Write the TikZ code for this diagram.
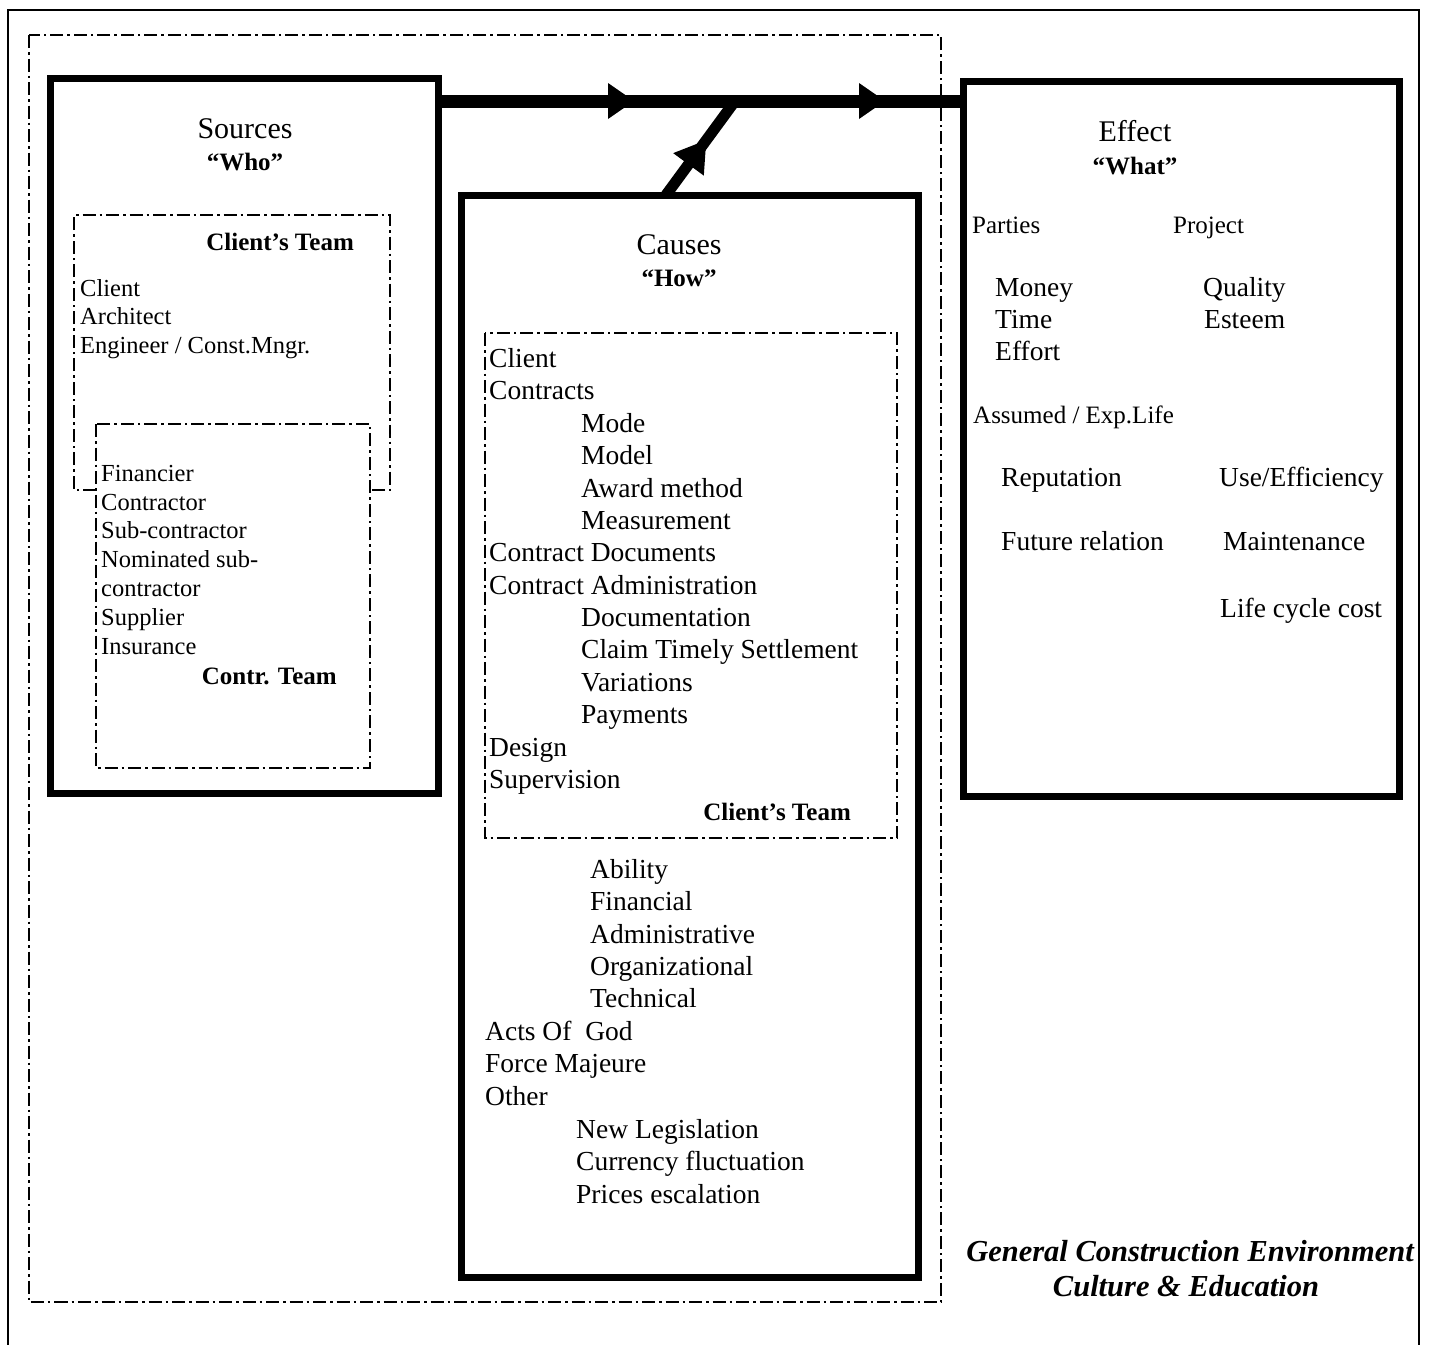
\documentclass[tikz,border=0pt]{standalone}
\usepackage{fontspec}
\setmainfont{Liberation Serif}
\usetikzlibrary{decorations.markings,calc}
\begin{document}
\begin{tikzpicture}[x=1pt,y=-1pt,
  frame/.style={line width=2pt},
  dd/.style={line width=2.6pt, dash pattern=on 13pt off 4pt on 2.5pt off 4pt},
  bigbox/.style={draw, line width=7pt, inner sep=0pt, outer sep=0pt, anchor=north west},
  flow/.style={line width=13pt},
  ttl/.style={anchor=base, inner sep=0pt, font=\fontsize{30}{34}\selectfont},
  qq/.style={anchor=base, inner sep=0pt, font=\bfseries\fontsize{25}{29}\selectfont},
  st/.style={anchor=base west, inner sep=0pt, font=\fontsize{24.5}{28}\selectfont},
  team/.style={anchor=base east, inner sep=0pt, font=\bfseries\fontsize{25}{29}\selectfont},
  ct/.style={anchor=base west, inner sep=0pt, font=\fontsize{27.5}{31}\selectfont},
  et/.style={anchor=base west, inner sep=0pt, font=\fontsize{27.5}{31}\selectfont},
  es/.style={anchor=base west, inner sep=0pt, font=\fontsize{25}{29}\selectfont},
  env/.style={anchor=base, inner sep=0pt, font=\bfseries\itshape\fontsize{30.5}{34}\selectfont}
]
\useasboundingbox (0,0) rectangle (1434,1344);
% outer frame (open at the bottom edge of the page) and environment boundary
\draw[frame] (8,1352) -- (8,10) -- (1419,10) -- (1419,1352);
\draw[dd] (29,35) rectangle (941,1302);

% main boxes
\node[bigbox, minimum width=388pt, minimum height=715pt] (src) at (50,78) {};
\node[bigbox, minimum width=457pt, minimum height=1082pt] (cau) at (461,195) {};
\node[bigbox, minimum width=436pt, minimum height=715pt] (eff) at (963,81) {};

% connectors
\coordinate (ly) at (0,101);
\coordinate (join) at (735,101);
\coordinate (ds) at ($(cau.north west)+(205,0)$);
\draw[flow, postaction=decorate, decoration={markings,
   mark=at position 196pt with {\fill (0,0) -- (-26pt,18pt) -- (-26pt,-18pt) -- cycle;},
   mark=at position 447pt with {\fill (0,0) -- (-26pt,18pt) -- (-26pt,-18pt) -- cycle;}}]
  (src.east |- ly) -- (eff.west |- ly);
\draw[line width=11pt, postaction=decorate, decoration={markings,
   mark=at position 68pt with {\fill (0,0) -- (-30pt,19pt) -- (-30pt,-19pt) -- cycle;}}]
  (ds) -- (join);

% Sources
\node[ttl] (srcT) at (245,138) {Sources};
\node[qq] (srcQ) at (245,170) {“Who”};
\draw[dd] (96,490) -- (74,490) -- (74,215) -- (390,215) -- (390,490) -- (370,490);
\draw[dd] (96,424) rectangle (370,768);
\node[team] (sct) at (354,250) {Client’s Team};
\node[st] (s1) at (80,296) {Client};
\node[st] (s2) at (80,324) {Architect};
\node[st] (s3) at (80,353) {Engineer / Const.Mngr.};
\node[st] (s4) at (101,481) {Financier};
\node[st] (s5) at (101,510) {Contractor};
\node[st] (s6) at (101,538) {Sub-contractor};
\node[st] (s7) at (101,567) {Nominated sub-};
\node[st] (s8) at (101,596) {contractor};
\node[st] (s9) at (101,625) {Supplier};
\node[st] (s10) at (101,654) {Insurance};
\node[team] (sctr) at (337,684) {Contr. Team};

% Causes
\node[ttl] (cauT) at (679,254) {Causes};
\node[qq] (cauQ) at (679,286) {“How”};
\draw[dd] (485,333) rectangle (897,838);
\node[ct] (c1) at (489,367) {Client};
\node[ct] (c2) at (489,399.5) {Contracts};
\node[ct] (c3) at (581,432) {Mode};
\node[ct] (c4) at (581,464) {Model};
\node[ct] (c5) at (581,497) {Award method};
\node[ct] (c6) at (581,529) {Measurement};
\node[ct] (c7) at (489,561) {Contract Documents};
\node[ct] (c8) at (489,594) {Contract Administration};
\node[ct] (c9) at (581,626) {Documentation};
\node[ct] (c10) at (581,658.5) {Claim Timely Settlement};
\node[ct] (c11) at (581,691) {Variations};
\node[ct] (c12) at (581,723) {Payments};
\node[ct] (c13) at (489,756) {Design};
\node[ct] (c14) at (489,788) {Supervision};
\node[team] (cct) at (851,820) {Client’s Team};
\node[ct] (c15) at (590,878) {Ability};
\node[ct] (c16) at (590,910) {Financial};
\node[ct] (c17) at (590,943) {Administrative};
\node[ct] (c18) at (590,975) {Organizational};
\node[ct] (c19) at (590,1007) {Technical};
\node[ct] (c20) at (485,1040) {Acts Of~ God};
\node[ct] (c21) at (485,1072) {Force Majeure};
\node[ct] (c22) at (485,1105) {Other};
\node[ct] (c23) at (576,1138) {New Legislation};
\node[ct] (c24) at (576,1170) {Currency fluctuation};
\node[ct] (c25) at (576,1203) {Prices escalation};

% Effect
\node[ttl] (effT) at (1135,141) {Effect};
\node[qq] (effQ) at (1135,174) {“What”};
\node[es] (e1) at (972,233) {Parties};
\node[es] (e2) at (1173,233) {Project};
\node[et] (e3) at (995,296) {Money};
\node[et] (e4) at (995,328) {Time};
\node[et] (e5) at (995,360) {Effort};
\node[et] (e6) at (1203,296) {Quality};
\node[et] (e7) at (1204,328) {Esteem};
\node[es] (e8) at (973,423) {Assumed / Exp.Life};
\node[et] (e9) at (1001,486) {Reputation};
\node[et] (e10) at (1219,486) {Use/Efficiency};
\node[et] (e11) at (1001,550) {Future relation};
\node[et] (e12) at (1223,550) {Maintenance};
\node[et] (e13) at (1220,617) {Life cycle cost};

% environment label
\node[env] (env1) at (1190,1261) {General Construction Environment};
\node[env] (env2) at (1186,1296) {Culture \& Education};
\end{tikzpicture}
\end{document}
